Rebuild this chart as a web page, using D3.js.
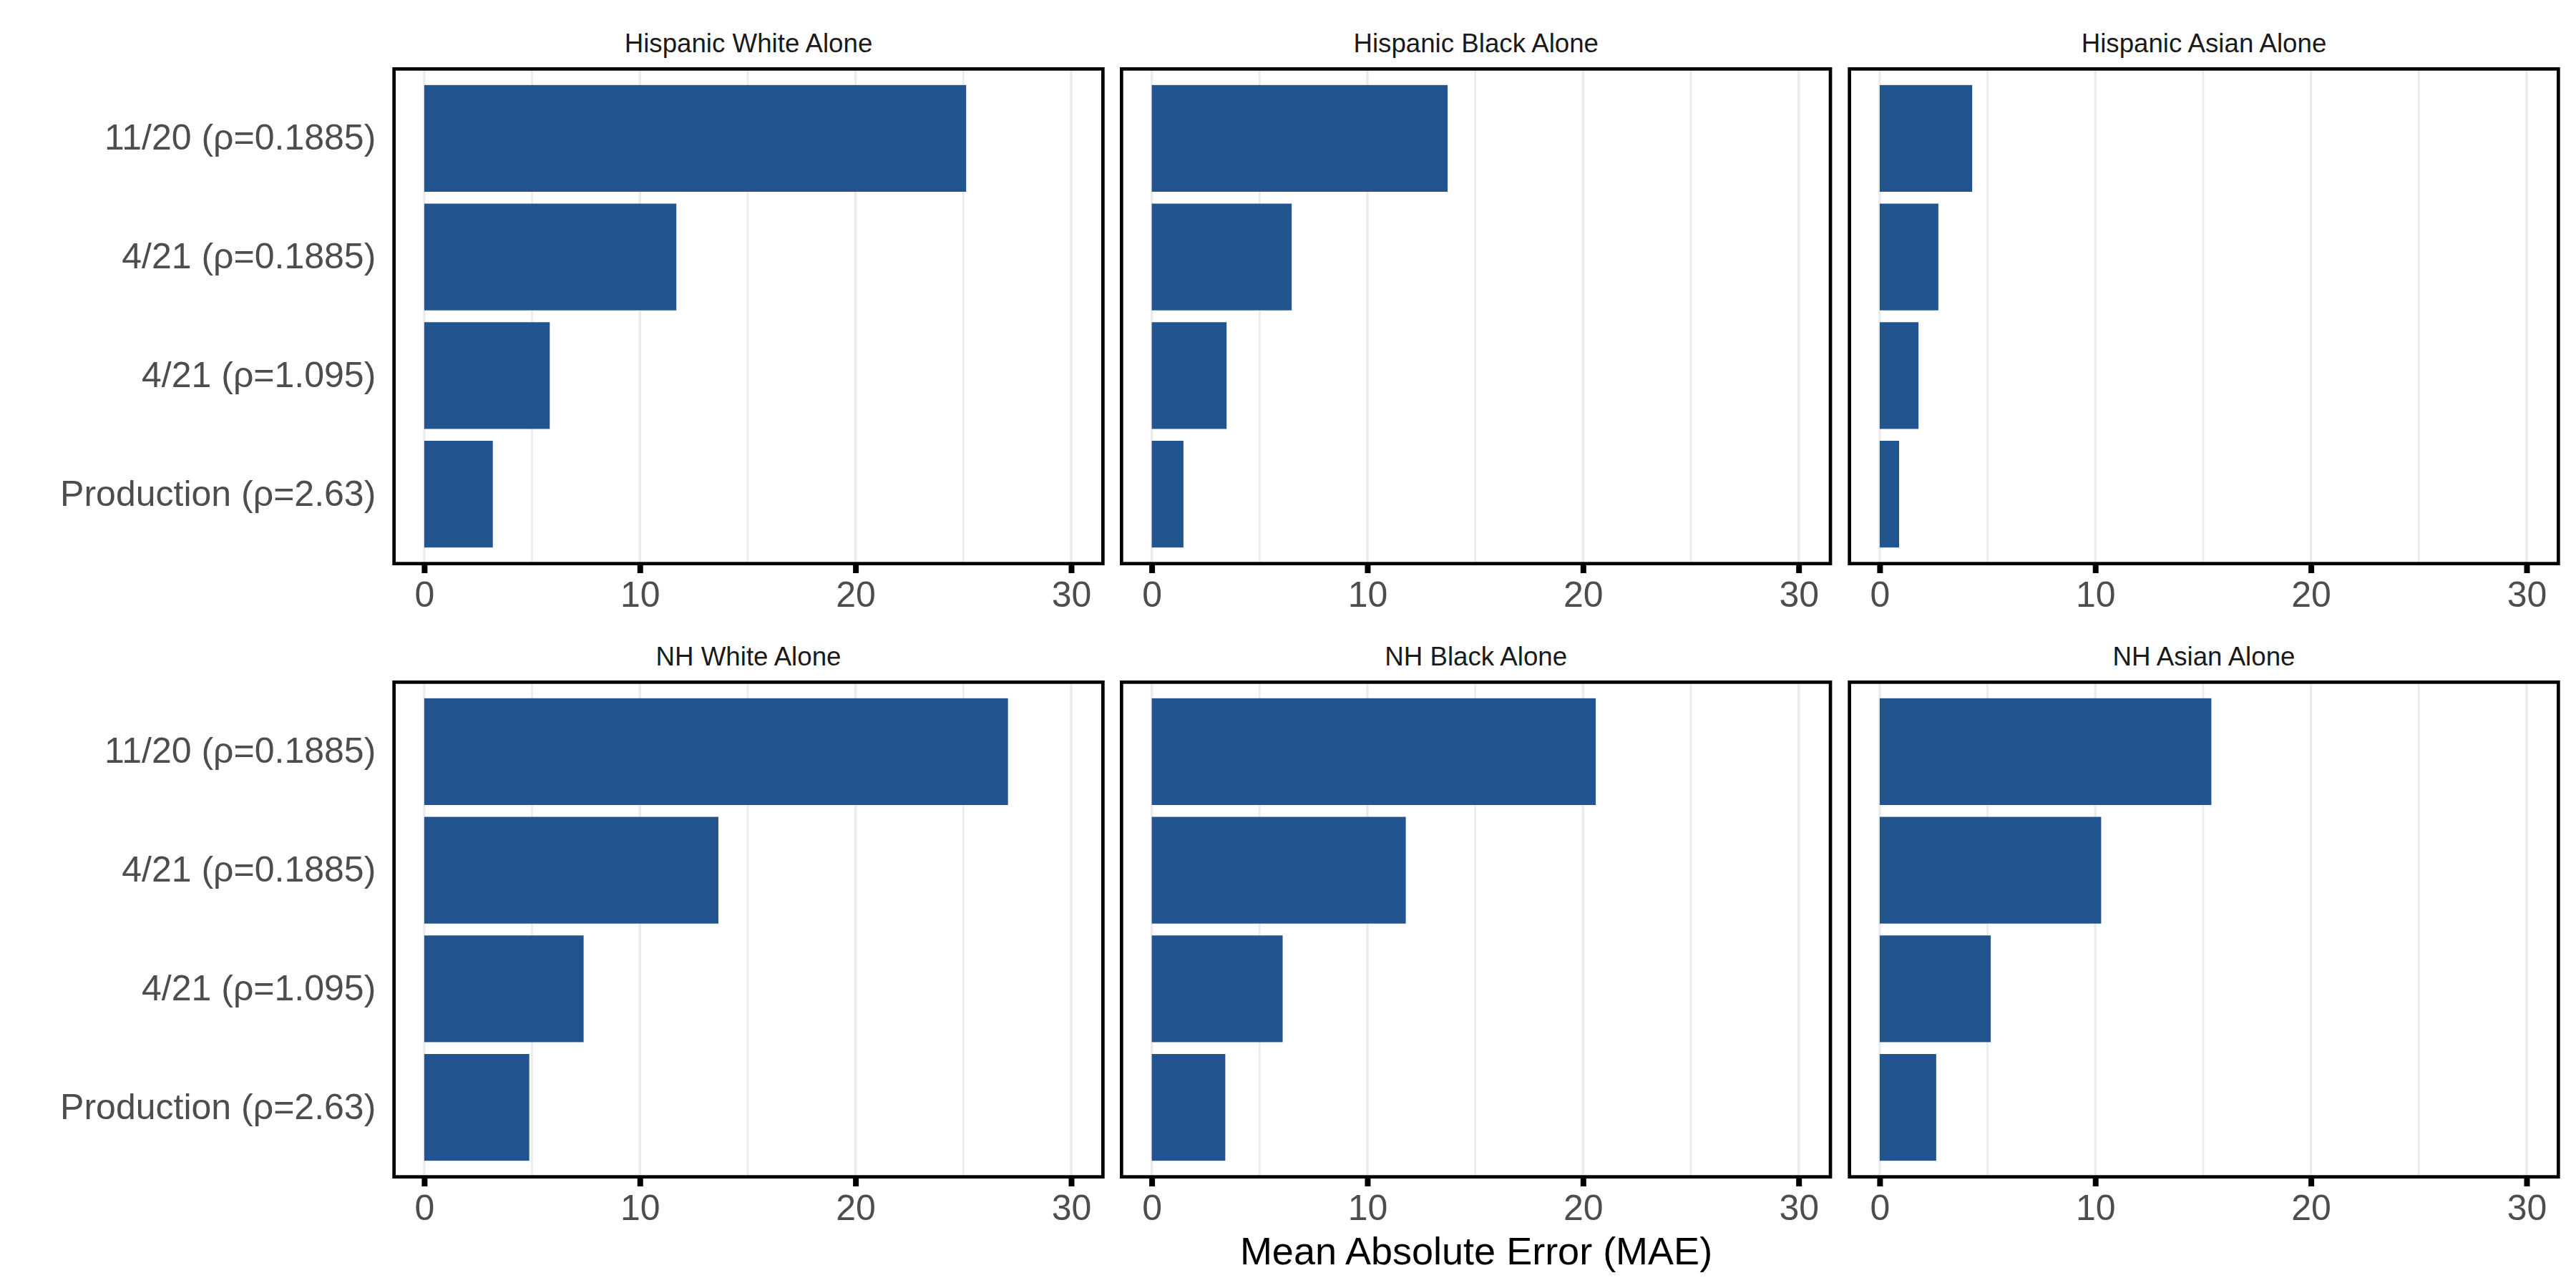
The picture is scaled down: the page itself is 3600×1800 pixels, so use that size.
<!DOCTYPE html>
<html lang="en">
<head>
  <meta charset="UTF-8" />
  <title>Mean Absolute Error by group</title>
  <style>
    body { margin:0; background:#fff; }
    svg { display:block; font-family:"Liberation Sans", Arial, sans-serif; }
  </style>
</head>
<body>
  <svg id="chart" width="3600" height="1800"></svg>

  <script src="https://d3js.org/d3.v7.min.js"></script>
  <script>
  const facets  = ["Hispanic White Alone", "Hispanic Black Alone", "Hispanic Asian Alone",
                   "NH White Alone", "NH Black Alone", "NH Asian Alone"];
  const methods = ["11/20 (ρ=0.1885)", "4/21 (ρ=0.1885)", "4/21 (ρ=1.095)", "Production (ρ=2.63)"];
  const hispWhite = [25.13, 11.69, 5.82, 3.18];
  const hispBlack = [13.72, 6.49, 3.47, 1.47];
  const hispAsian = [4.29, 2.72, 1.80, 0.90];
  const nhWhite   = [27.07, 13.64, 7.39, 4.87];
  const nhBlack   = [20.59, 11.78, 6.07, 3.41];
  const nhAsian   = [15.38, 10.27, 5.15, 2.62];
  const majorTicks = [0, 10, 20, 30];
  const minorTicks = [5, 15, 25];
  const xTitle = "Mean Absolute Error (MAE)";

  const series = [hispWhite, hispBlack, hispAsian, nhWhite, nhBlack, nhAsian];

  const svg = d3.select("#chart");
  const colLeft = [548.3, 1565, 2582.3],
        rowTop  = [94, 951],
        pw = 995.4, ph = 696,
        barCol = "#22558f";

  facets.forEach((name, i) => {
    const x0 = colLeft[i % 3], y0 = rowTop[Math.floor(i / 3)];
    const x = d3.scaleLinear().domain([-1.48, 31.55]).range([x0, x0 + pw]);
    const y = d3.scaleBand().domain(methods).range([y0, y0 + ph])
                .paddingInner(0.1).paddingOuter(0.15);
    const g = svg.append("g");

    // grid (vertical only)
    g.selectAll(".minor").data(minorTicks).join("line")
     .attr("x1", d => x(d)).attr("x2", d => x(d))
     .attr("y1", y0).attr("y2", y0 + ph)
     .attr("stroke", "#ebebeb").attr("stroke-width", 2.6);
    g.selectAll(".major").data(majorTicks).join("line")
     .attr("x1", d => x(d)).attr("x2", d => x(d))
     .attr("y1", y0).attr("y2", y0 + ph)
     .attr("stroke", "#ebebeb").attr("stroke-width", 3.4);

    // bars
    g.selectAll("rect.bar").data(series[i].map((v, k) => ({m: methods[k], v})))
     .join("rect").attr("class", "bar")
     .attr("x", x(0)).attr("y", d => y(d.m))
     .attr("width", d => x(d.v) - x(0)).attr("height", y.bandwidth())
     .attr("fill", barCol);

    // panel border (clipped half shows inside)
    g.append("rect")
     .attr("x", x0 + 2.35).attr("y", y0 + 2.35)
     .attr("width", pw - 4.7).attr("height", ph - 4.7)
     .attr("fill", "none").attr("stroke", "#000").attr("stroke-width", 4.7);

    // strip title
    g.append("text")
     .attr("x", x0 + pw / 2).attr("y", y0 - 21.3).attr("text-anchor", "middle")
     .style("font-size", "36.7px").style("fill", "#1a1a1a")
     .text(name);

    // x axis
    const gx = g.append("g").attr("transform", `translate(0,${y0 + ph})`)
      .call(d3.axisBottom(x).tickValues(majorTicks).tickSize(11).tickPadding(11));
    gx.select(".domain").remove();
    gx.selectAll(".tick line").attr("stroke", "#000").attr("stroke-width", 8);
    gx.selectAll(".tick text").style("font-size", "50px").style("fill", "#4d4d4d")
      .attr("font-family", null);

    // y axis on first column only
    if (i % 3 === 0) {
      const gy = g.append("g").attr("transform", `translate(${x0},0)`)
        .call(d3.axisLeft(y).tickSize(0).tickPadding(23));
      gy.select(".domain").remove();
      gy.selectAll(".tick text").style("font-size", "50px").style("fill", "#4d4d4d")
        .attr("font-family", null);
    }
  });

  // shared x title
  svg.append("text")
     .attr("x", (colLeft[0] + colLeft[2] + pw) / 2).attr("y", 1767)
     .attr("text-anchor", "middle")
     .style("font-size", "54px").style("fill", "#000")
     .text(xTitle);
  </script>
</body>
</html>
